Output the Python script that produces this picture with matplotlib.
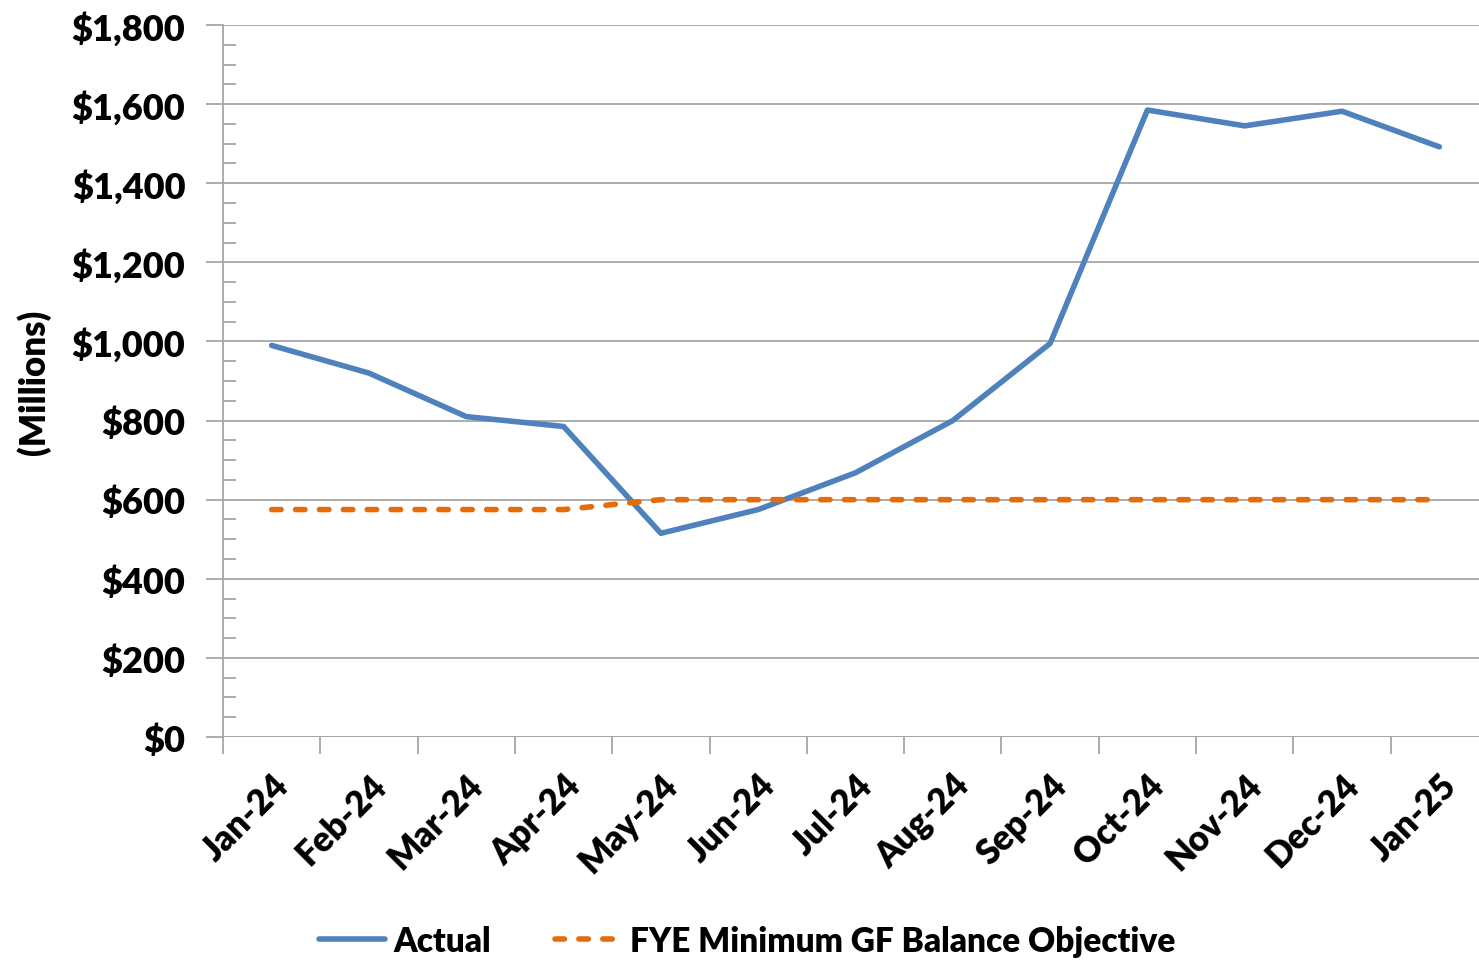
import matplotlib.pyplot as plt
from matplotlib.ticker import FuncFormatter, MultipleLocator
import numpy as np

months = ['Jan-24', 'Feb-24', 'Mar-24', 'Apr-24', 'May-24', 'Jun-24', 'Jul-24',
          'Aug-24', 'Sep-24', 'Oct-24', 'Nov-24', 'Dec-24', 'Jan-25']
actual = [990, 920, 810, 785, 515, 575, 668, 800, 995, 1585, 1545, 1582, 1492]
objective = [575, 575, 575, 575, 600, 600, 600, 600, 600, 600, 600, 600, 600]

plt.rcParams['font.family'] = ['Lato', 'DejaVu Sans']
plt.rcParams['font.weight'] = 'heavy'

grey = '#a6a6a6'

fig = plt.figure(figsize=(14.79, 9.62), dpi=100)
# plot area: left 223px, right edge runs past the image at ~1488px
W, H = 1479, 962
ax = fig.add_axes([223 / W, 1 - 738 / H, (1488 - 223) / W, (738 - 26) / H])

x = np.arange(len(months))
ax.plot(x, actual, color='#4f81bd', lw=4.0, solid_joinstyle='round',
        solid_capstyle='round', label='Actual', zorder=3)
ax.plot(x, objective, color='#e46c0a', lw=4.0, ls=(0, (1.7, 2.6)),
        dash_capstyle='round', label='FYE Minimum GF Balance Objective', zorder=3)

ax.set_xlim(-0.5, len(months) - 0.5)
ax.set_ylim(0, 1800)

ax.yaxis.set_major_locator(MultipleLocator(200))
ax.yaxis.set_minor_locator(MultipleLocator(50))
ax.yaxis.set_major_formatter(FuncFormatter(lambda v, p: '${:,.0f}'.format(v)))
ax.grid(axis='y', which='major', color=grey, lw=1.3, zorder=1)

# ticks sit between the months, labels at the month centres
ax.set_xticks(np.arange(len(months) + 1) - 0.5, minor=False)
ax.set_xticklabels([])
ax.set_xticks(x, minor=True)
ax.set_xticklabels(months, minor=True, rotation=45, ha='right',
                   rotation_mode='anchor', fontsize=25, fontweight='heavy')

for s in ['top', 'right', 'bottom']:
    ax.spines[s].set_visible(False)
ax.spines['left'].set_color(grey)
ax.spines['left'].set_linewidth(1.3)

ax.tick_params(axis='y', which='major', direction='out', length=12,
               width=1.3, color=grey, labelsize=26, pad=15)
ax.tick_params(axis='y', which='minor', direction='in', length=9,
               width=1.3, color=grey)
ax.tick_params(axis='x', which='major', direction='out', length=12,
               width=1.3, color=grey)
ax.tick_params(axis='x', which='minor', length=0, pad=22)
ax.axhline(0, color=grey, lw=1.3, zorder=1)
for lbl in ax.get_yticklabels():
    lbl.set_fontweight('heavy')

ax.set_ylabel('(Millions)', fontsize=25, fontweight='heavy')
ax.yaxis.set_label_coords(-172 / (1488 - 223), 0.50)

fig.legend(loc='center', bbox_to_anchor=(0.505, 1 - 942 / H), ncol=2,
           frameon=False, fontsize=24, handlelength=2.0, columnspacing=1.9,
           handletextpad=0.25)

fig.savefig('out.png', dpi=100)
